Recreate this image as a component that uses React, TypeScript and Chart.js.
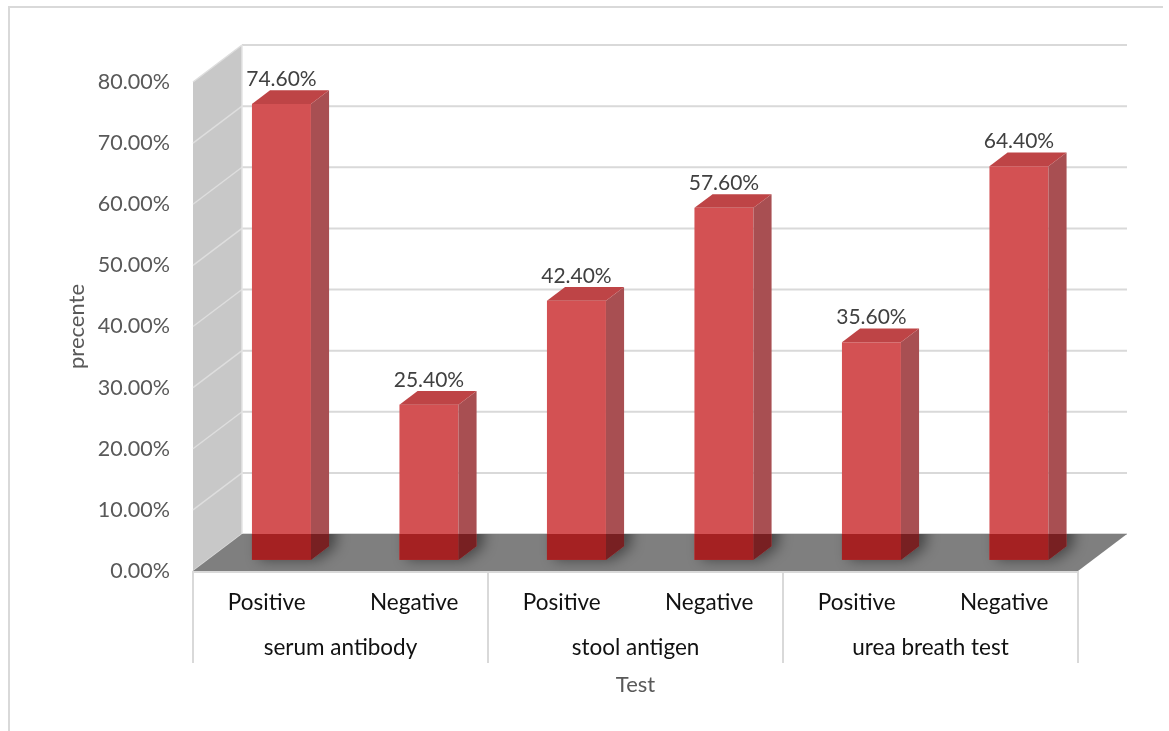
import { useEffect, useRef } from 'react';
import { Chart, registerables } from 'chart.js';

Chart.register(...registerables);

// Data
const categories = ['Positive', 'Negative', 'Positive', 'Negative', 'Positive', 'Negative'];
const groups = ['serum antibody', 'stool antigen', 'urea breath test'];
const percentages = [74.6, 25.4, 42.4, 57.6, 35.6, 64.4];
const yTicks = [0, 10, 20, 30, 40, 50, 60, 70, 80];
const yTitle = 'precente';
const xTitle = 'Test';

const FONT = 'Lato, "Open Sans", sans-serif';

// Depth vector of the 3D box (from front plane to back wall)
const DEPTH_X = 49;
const DEPTH_Y = -37;
const BAR_FRONT = 0.3; // bar front plane, as a fraction of the depth
const BAR_DEPTH = 0.37; // bar thickness, as a fraction of the depth

const fmt = (v: number) => v.toFixed(2) + '%';

const box3d = {
  id: 'box3d',
  beforeDatasetsDraw(chart: any) {
    const { ctx, chartArea: a, scales } = chart;
    const y = scales.y;
    const x = scales.x;
    const L = a.left, R = a.right, T = a.top, B = a.bottom;
    const dx = DEPTH_X, dy = DEPTH_Y;
    ctx.save();

    // side wall
    ctx.fillStyle = '#c8c8c8';
    ctx.beginPath();
    ctx.moveTo(L, T);
    ctx.lineTo(L + dx, T + dy);
    ctx.lineTo(L + dx, B + dy);
    ctx.lineTo(L, B);
    ctx.closePath();
    ctx.fill();

    // gridlines on side wall and back wall
    yTicks.forEach((v) => {
      const py = y.getPixelForValue(v);
      ctx.strokeStyle = '#dedede';
      ctx.lineWidth = 1.5;
      ctx.beginPath();
      ctx.moveTo(L, py);
      ctx.lineTo(L + dx, py + dy);
      ctx.stroke();
      ctx.strokeStyle = '#d9d9d9';
      ctx.lineWidth = 2;
      ctx.beginPath();
      ctx.moveTo(L + dx, py + dy);
      ctx.lineTo(R + dx, py + dy);
      ctx.stroke();
    });
    // back wall left edge
    ctx.strokeStyle = '#e4e4e4';
    ctx.lineWidth = 1.5;
    ctx.beginPath();
    ctx.moveTo(L + dx, T + dy);
    ctx.lineTo(L + dx, B + dy);
    ctx.stroke();

    // floor
    ctx.fillStyle = '#7f7f7f';
    ctx.beginPath();
    ctx.moveTo(L, B);
    ctx.lineTo(L + dx, B + dy);
    ctx.lineTo(R + dx, B + dy);
    ctx.lineTo(R, B);
    ctx.closePath();
    ctx.fill();

    // front axis line
    ctx.strokeStyle = '#d9d9d9';
    ctx.lineWidth = 2;
    ctx.beginPath();
    ctx.moveTo(L, B + 1);
    ctx.lineTo(R, B + 1);
    ctx.stroke();

    // group dividers under the axis
    const half = (x.getPixelForValue(1) - x.getPixelForValue(0)) / 2;
    const divs = [x.getPixelForValue(0) - half];
    groups.forEach((_, g) => divs.push(x.getPixelForValue(g * 2 + 1) + half));
    divs.forEach((px) => {
      ctx.beginPath();
      ctx.moveTo(px, B);
      ctx.lineTo(px, B + 92);
      ctx.stroke();
    });

    ctx.restore();
  },
  afterDatasetsDraw(chart: any) {
    const { ctx, chartArea: a } = chart;
    const L = a.left, R = a.right, B = a.bottom;
    const dx = DEPTH_X, dy = DEPTH_Y;
    const ox = BAR_FRONT * dx, oy = BAR_FRONT * dy;
    const sx = BAR_DEPTH * dx, sy = BAR_DEPTH * dy;
    const meta = chart.getDatasetMeta(0);

    const boxes = meta.data.map((bar: any) => {
      const p = bar.getProps(['x', 'y', 'base', 'width'], true);
      const l = p.x - p.width / 2 + ox;
      const r = p.x + p.width / 2 + ox;
      return { cx: p.x + ox, l, r, t: p.y + oy, b: p.base + oy };
    });

    const floorPath = () => {
      ctx.beginPath();
      ctx.moveTo(L, B);
      ctx.lineTo(L + dx, B + dy);
      ctx.lineTo(R + dx, B + dy);
      ctx.lineTo(R, B);
      ctx.closePath();
    };

    ctx.save();
    // soft shadows cast on the floor
    floorPath();
    ctx.clip();
    ctx.shadowColor = 'rgba(0,0,0,0.45)';
    ctx.shadowBlur = 14;
    ctx.shadowOffsetX = 7;
    ctx.fillStyle = '#7f7f7f';
    boxes.forEach((k: any) => {
      ctx.beginPath();
      ctx.moveTo(k.l, k.b);
      ctx.lineTo(k.r, k.b);
      ctx.lineTo(k.r + sx, k.b + sy);
      ctx.lineTo(k.r + sx, k.b + sy - 60);
      ctx.lineTo(k.l, k.b - 60);
      ctx.closePath();
      ctx.fill();
    });
    ctx.restore();

    const drawFaces = (front: string, side: string, top: string | null) => {
      boxes.forEach((k: any) => {
        ctx.fillStyle = front;
        ctx.fillRect(k.l, k.t, k.r - k.l, k.b - k.t);
        ctx.fillStyle = side;
        ctx.beginPath();
        ctx.moveTo(k.r, k.t);
        ctx.lineTo(k.r + sx, k.t + sy);
        ctx.lineTo(k.r + sx, k.b + sy);
        ctx.lineTo(k.r, k.b);
        ctx.closePath();
        ctx.fill();
        if (top) {
          ctx.fillStyle = top;
          ctx.beginPath();
          ctx.moveTo(k.l, k.t);
          ctx.lineTo(k.l + sx, k.t + sy);
          ctx.lineTo(k.r + sx, k.t + sy);
          ctx.lineTo(k.r, k.t);
          ctx.closePath();
          ctx.fill();
        }
      });
    };

    ctx.save();
    ctx.lineJoin = 'round';
    drawFaces('#d35153', '#a84f52', '#be4446');
    // parts of the bars seen against the floor
    floorPath();
    ctx.clip();
    drawFaces('#a52122', '#782022', null);
    ctx.restore();

    // value labels
    ctx.save();
    ctx.font = `21px ${FONT}`;
    ctx.fillStyle = '#404040';
    ctx.textAlign = 'center';
    ctx.textBaseline = 'middle';
    boxes.forEach((k: any, i: number) => {
      ctx.fillText(fmt(percentages[i]), k.cx, k.t + sy - 11);
    });
    ctx.restore();
  },
  afterDraw(chart: any) {
    const { ctx, chartArea: a, scales } = chart;
    const x = scales.x, y = scales.y;
    const L = a.left, R = a.right, T = a.top, B = a.bottom;
    ctx.save();

    // outer frame
    ctx.strokeStyle = '#d9d9d9';
    ctx.lineWidth = 2;
    ctx.beginPath();
    ctx.moveTo(9, chart.height);
    ctx.lineTo(9, 7);
    ctx.lineTo(1163, 7);
    ctx.stroke();

    // y tick labels
    ctx.font = `21.5px ${FONT}`;
    ctx.fillStyle = '#595959';
    ctx.textAlign = 'right';
    ctx.textBaseline = 'middle';
    yTicks.forEach((v) => ctx.fillText(fmt(v), L - 23, y.getPixelForValue(v)));

    // category labels
    ctx.font = `22.5px ${FONT}`;
    ctx.fillStyle = '#111111';
    ctx.textAlign = 'center';
    categories.forEach((c, i) => ctx.fillText(c, x.getPixelForValue(i), B + 32));
    groups.forEach((g, i) => {
      const gx = (x.getPixelForValue(i * 2) + x.getPixelForValue(i * 2 + 1)) / 2;
      ctx.fillText(g, gx, B + 77);
    });

    // axis titles
    ctx.font = `22px ${FONT}`;
    ctx.fillStyle = '#595959';
    ctx.fillText(xTitle, (L + R) / 2, B + 114);
    ctx.translate(77, (T + B) / 2);
    ctx.rotate(-Math.PI / 2);
    ctx.fillText(yTitle, 0, 0);

    ctx.restore();
  },
};

export default function App() {
  const ref = useRef<HTMLCanvasElement | null>(null);

  useEffect(() => {
    if (!ref.current) return;
    const chart = new Chart(ref.current, {
      type: 'bar',
      data: {
        labels: categories,
        datasets: [
          {
            data: percentages,
            backgroundColor: 'rgba(0,0,0,0)',
            borderWidth: 0,
            barPercentage: 0.4,
            categoryPercentage: 1,
          },
        ],
      },
      options: {
        responsive: false,
        animation: false,
        devicePixelRatio: 1,
        layout: { padding: { left: 193, right: 91, top: 82, bottom: 160 } },
        plugins: { legend: { display: false }, tooltip: { enabled: false } },
        scales: {
          x: { display: false },
          y: { display: false, min: 0, max: 80 },
        },
      },
      plugins: [box3d],
    });
    return () => chart.destroy();
  }, []);

  return (
    <div style={{ position: 'fixed', left: 0, top: 0, width: 1169, height: 731, background: '#fff' }}>
      <canvas ref={ref} width={1169} height={731} />
    </div>
  );
}
